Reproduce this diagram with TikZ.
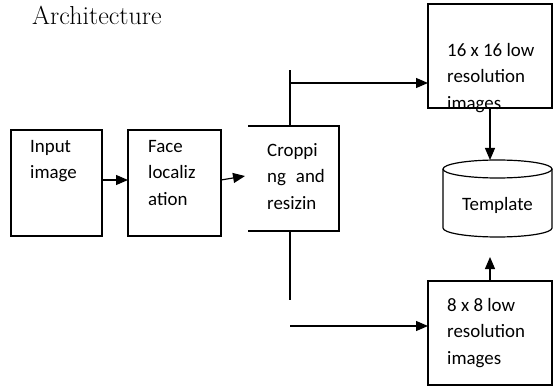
\documentclass[tikz,border=0pt]{standalone}
\usepackage{fontspec}
\usetikzlibrary{arrows.meta}
\newfontfamily\boxfont{Carlito}
\tikzset{blk/.style={draw, line width=1.2pt, minimum width=91pt, minimum height=106pt,
         inner sep=0pt, outer sep=0pt, anchor=north west},
         blktext/.style={anchor=north west, align=left, inner sep=0pt,
         font=\boxfont\fontsize{18.9}{26.5}\selectfont},
         arr/.style={line width=1.2pt, -{Triangle[length=12pt,width=10pt]}}}
\begin{document}
\begin{tikzpicture}[x=1pt,y=-1pt]
        \useasboundingbox (0,0) rectangle (553,387);
        \node[anchor=base west, inner sep=0pt, font=\fontsize{26}{30}\selectfont] (title) at (32,25) {Architecture};

        % Blocks
        \node[blk] (in) at (11,130) {};
        \node[blk, minimum width=93pt] (face) at (128,130) {};
        \node[blk, draw=none, minimum height=105pt] (crop) at (248,126) {};
        \node[blk, minimum width=124pt, minimum height=104pt] (lo16) at (428,4) {};
        \node[blk, minimum width=124pt, minimum height=104pt] (lo8) at (428,281) {};
        \draw[line width=1.2pt] (crop.north west) -- (crop.north east) -- (crop.south east) -- (crop.south west);

        \node[blktext] (in-txt) at (30,140) {Input\\image};
        \node[blktext] (face-txt) at (148,140) {Face\\localiz\\ation};
        \node[blktext] (crop-txt) at (267,143) {Croppi\\ng\hspace{0.3em} and\\resizin};
        \node[blktext] (lo16-txt) at (447,43) {16 x 16 low\\resolution\\images};
        \node[blktext] (lo8-txt) at (447,298) {8 x 8 low\\resolution\\images};

        % Template store
        \draw[line width=1.2pt] (443,169) -- (443,228)
              arc[start angle=180, end angle=360, x radius=54.5pt, y radius=9pt] -- (552,169);
        \draw[line width=1.2pt] (497.5,169) ellipse[x radius=54.5pt, y radius=9pt];
        \node[blktext, anchor=center] (tmpl) at (497.5,205) {Template};
        \coordinate (dbtop) at (490,160);
        \coordinate (dbin) at (490,257);

        % Connectors
        \draw[arr] ([yshift=3pt]in.east) -- ([yshift=3pt]face.west);
        \draw[arr, shorten >=3pt] ([yshift=3pt]face.east) -- ([yshift=3pt]crop.west);
        \coordinate (up) at (290,70);
        \coordinate (hi) at (290,83);
        \coordinate (down) at (290,300);
        \coordinate (lowbr) at (290,326);
        \draw[line width=1.2pt] (crop.north -| up) -- (up);
        \draw[line width=1.2pt] (crop.south -| down) -- (down);
        \draw[arr] (hi) -- (hi -| lo16.west);
        \draw[arr] (lowbr) -- (lowbr -| lo8.west);
        \draw[arr] (lo16.south) -- (dbtop);
        \draw[arr] (lo8.north) -- (dbin);
\end{tikzpicture}
\end{document}
